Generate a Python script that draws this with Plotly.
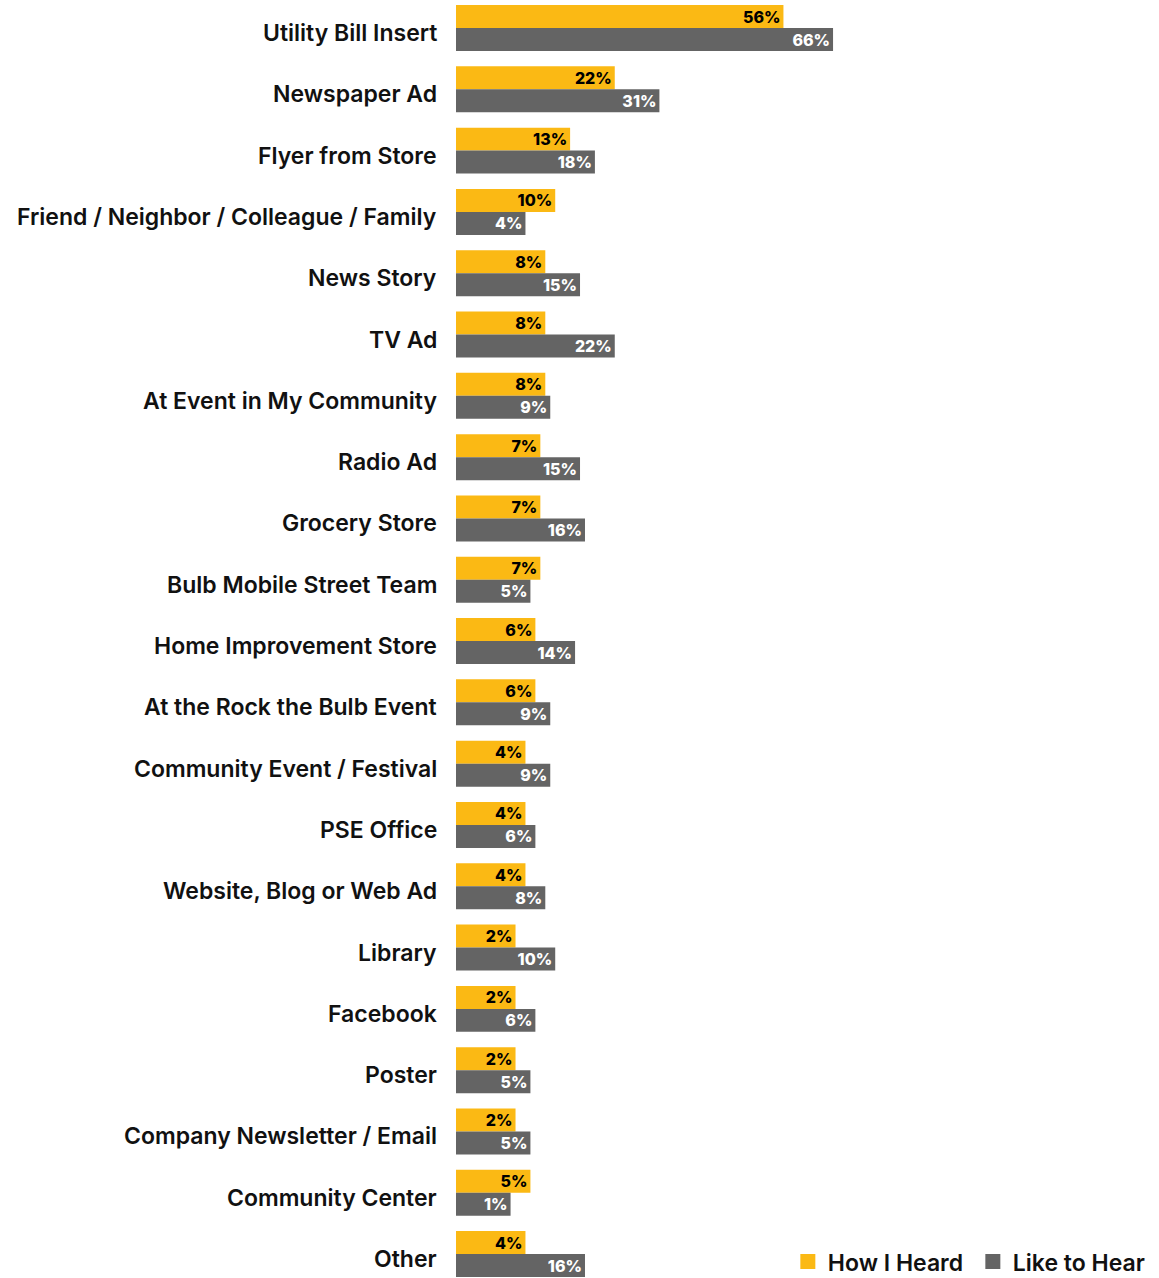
import plotly.graph_objects as go

# Survey: how customers heard about the program vs. how they'd like to hear
categories = [
    "Utility Bill Insert",
    "Newspaper Ad",
    "Flyer from Store",
    "Friend / Neighbor / Colleague / Family",
    "News Story",
    "TV Ad",
    "At Event in My Community",
    "Radio Ad",
    "Grocery Store",
    "Bulb Mobile Street Team",
    "Home Improvement Store",
    "At the Rock the Bulb Event",
    "Community Event / Festival",
    "PSE Office",
    "Website, Blog or Web Ad",
    "Library",
    "Facebook",
    "Poster",
    "Company Newsletter / Email",
    "Community Center",
    "Other",
]
how_i_heard = [56, 22, 13, 10, 8, 8, 8, 7, 7, 7, 6, 6, 4, 4, 4, 2, 2, 2, 2, 5, 4]
like_to_hear = [66, 31, 18, 4, 15, 22, 9, 15, 16, 5, 14, 9, 9, 6, 8, 10, 6, 5, 5, 1, 16]

YELLOW = "#FBB914"
GRAY = "#646464"
FONT = "Inter"

# Every bar starts at a short common stub left of zero and ends at its value,
# so small shares still have room for their labels.
STUB = 10
X_MAX = 131.7


def bar_trace(name, values, color, text_color):
    return go.Bar(
        name=name, y=categories,
        x=[v + STUB for v in values], base=-STUB, orientation="h",
        customdata=values, texttemplate="%{customdata}%",
        textposition="inside", insidetextanchor="end",
        textfont=dict(family=FONT, size=16, color=text_color, weight=800),
        marker=dict(color=color, line=dict(width=0)),
        constraintext="none", hoverinfo="skip", showlegend=False,
    )


fig = go.Figure()
fig.add_trace(bar_trace("How I Heard", how_i_heard, YELLOW, "#000000"))
fig.add_trace(bar_trace("Like to Hear", like_to_hear, GRAY, "#FFFFFF"))

# Legend keys with larger square swatches
for name, color in [("How I Heard", YELLOW), ("Like to Hear", GRAY)]:
    fig.add_trace(go.Scatter(
        x=[None], y=[None], mode="markers", name=name,
        marker=dict(symbol="square", size=15, color=color),
        hoverinfo="skip",
    ))

# Category names, right-aligned against the bars
for cat in categories:
    fig.add_annotation(
        x=0, xref="paper", xanchor="right", xshift=-17,
        y=cat, yref="y", yshift=-5, showarrow=False,
        text=cat, font=dict(family=FONT, size=23, color="#111111", weight=600),
    )

fig.update_layout(
    width=1159, height=1278,
    margin=dict(l=456, r=0, t=0, b=0, autoexpand=False),
    paper_bgcolor="white", plot_bgcolor="white",
    barmode="group", bargap=0.25, bargroupgap=0,
    showlegend=True,
    legend=dict(
        orientation="h", xref="container", yref="paper",
        x=0.999, xanchor="right", y=-0.004, yanchor="bottom",
        font=dict(family=FONT, size=23, color="#111111", weight=600),
        bgcolor="rgba(0,0,0,0)", traceorder="normal",
        itemwidth=30, itemsizing="trace",
        entrywidth=140, entrywidthmode="pixels",
    ),
    xaxis=dict(visible=False, range=[-STUB, X_MAX]),
    yaxis=dict(
        type="category", categoryorder="array", categoryarray=categories,
        range=[20.39, -0.457], showticklabels=False, showgrid=False,
        zeroline=False, ticks="",
    ),
)

fig.write_html("out.html")
